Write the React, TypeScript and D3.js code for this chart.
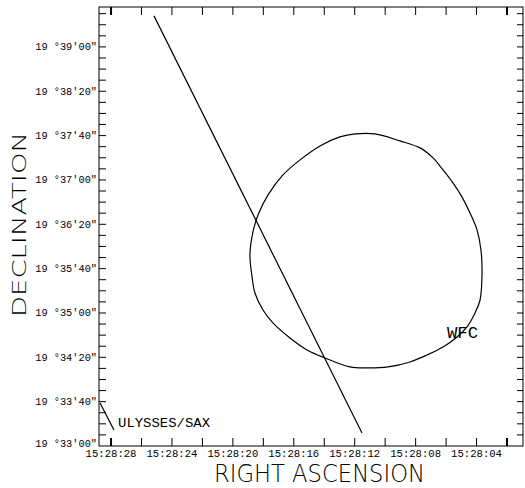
import React, { useEffect, useRef } from 'react';
import * as d3 from 'd3';

// RA: seconds after 15h28m00s ; Dec: arcsec after 19d00'00"
const raMajor = [28, 24, 20, 16, 12, 8, 4];
const raMinor = [28, 26, 24, 22, 20, 18, 16, 14, 12, 10, 8, 6, 4, 2];
const decMajor = [1980, 2020, 2060, 2100, 2140, 2180, 2220, 2260, 2300, 2340];

// WFC error circle
const wfcRa = [
  11.98, 10.67, 9.03, 7.71, 6.86, 6.2, 5.55, 4.96, 4.43, 3.97, 3.71, 3.64, 3.77,
  4.1, 4.63, 5.28, 6.2, 7.25, 8.37, 9.81, 11.19, 12.31, 13.95, 15.13, 16.25,
  17.37, 18.02, 18.55, 18.74, 18.88, 18.68, 18.35, 17.69, 16.71, 15.59, 14.28, 12.97,
];
const wfcDec = [
  2261.5, 2261.5, 2255.2, 2248.9, 2239.9, 2229.0, 2217.3, 2204.7, 2190.2, 2174.9,
  2156.8, 2136.1, 2111.7, 2100.0, 2087.4, 2078.3, 2069.3, 2062.1, 2055.8, 2051.3,
  2050.4, 2051.3, 2059.4, 2066.6, 2077.4, 2091.0, 2102.7, 2118.0, 2132.5, 2152.3,
  2173.1, 2188.4, 2206.5, 2224.5, 2238.1, 2250.7, 2258.8,
];

// Ulysses/SAX annulus edges
const annulusA_ra = [25.18, 11.52];
const annulusA_dec = [2368.0, 1991.7];
const annulusB_ra = [28.72, 27.81];
const annulusB_dec = [2018.8, 1994.4];

const fmtRa = (s: number) => `15:28:${String(s).padStart(2, '0')}`;
const fmtDec = (a: number) => {
  const m = Math.floor((a % 3600) / 60);
  const s = a % 60;
  return `19 \u00b0${m}'${String(s).padStart(2, '0')}"`;
};

const FONT = '"Liberation Mono", "DejaVu Sans Mono", monospace';
const THIN = '"DejaVu Sans", "Liberation Sans", sans-serif';

const App = () => {
  const ref = useRef<SVGSVGElement | null>(null);
  const width = 525;
  const height = 488;
  const margin = { top: 7, right: 2, bottom: 42, left: 99 };

  useEffect(() => {
    const svg = d3.select(ref.current);
    svg.selectAll('*').remove();

    const x = d3
      .scaleLinear()
      .domain([28.79, 0.95])
      .range([margin.left, width - margin.right]);
    const y = d3
      .scaleLinear()
      .domain([1980, 2376])
      .range([height - margin.bottom, margin.top]);

    const [x0, x1] = x.range();
    const [y0, y1] = y.range(); // y0 bottom, y1 top

    const g = svg.append('g');

    // frame
    g.append('rect')
      .attr('x', x0)
      .attr('y', y1)
      .attr('width', x1 - x0)
      .attr('height', y0 - y1)
      .attr('fill', 'none')
      .attr('stroke', '#000')
      .attr('stroke-width', 1);

    // bottom / top ticks
    raMinor.forEach((v, i) => {
      const w = i === 0 || i === raMinor.length - 1 ? 2 : 1;
      g.append('line')
        .attr('x1', x(v)).attr('x2', x(v))
        .attr('y1', y0).attr('y2', y0 - 8)
        .attr('stroke', '#000').attr('stroke-width', w);
      g.append('line')
        .attr('x1', x(v)).attr('x2', x(v))
        .attr('y1', y1).attr('y2', y1 + 8)
        .attr('stroke', '#000').attr('stroke-width', w);
    });

    // left / right ticks every 10"
    d3.range(1990, 2376, 10).forEach((v) => {
      g.append('line')
        .attr('x1', x0).attr('x2', x0 + 7)
        .attr('y1', y(v)).attr('y2', y(v))
        .attr('stroke', '#000').attr('stroke-width', 1);
      g.append('line')
        .attr('x1', x1).attr('x2', x1 - 6)
        .attr('y1', y(v)).attr('y2', y(v))
        .attr('stroke', '#000').attr('stroke-width', 1);
    });

    // tick labels
    g.selectAll('.ra_label')
      .data(raMajor)
      .join('text')
      .attr('class', 'ra_label')
      .attr('x', (d) => x(d))
      .attr('y', y0 + 10.5)
      .attr('text-anchor', 'middle')
      .style('font-family', FONT)
      .style('font-size', '10.6px')
      .text((d) => fmtRa(d));

    g.selectAll('.dec_label')
      .data(decMajor)
      .join('text')
      .attr('class', 'dec_label')
      .attr('x', x0 - 2)
      .attr('y', (d, i) => y(d) + (i === 0 ? 0.5 : 3.5))
      .attr('text-anchor', 'end')
      .style('font-family', FONT)
      .style('font-size', '10.3px')
      .text((d) => fmtDec(d));

    // axis titles
    svg.append('text')
      .attr('x', 214)
      .attr('y', 482)
      .attr('textLength', 211)
      .attr('lengthAdjust', 'spacingAndGlyphs')
      .style('font-family', THIN)
      .style('font-size', '24px')
      .style('font-weight', 200)
      .text('RIGHT ASCENSION');

    svg.append('text')
      .attr('transform', 'translate(26, 317) rotate(-90)')
      .attr('textLength', 185)
      .attr('lengthAdjust', 'spacingAndGlyphs')
      .style('font-family', THIN)
      .style('font-size', '20px')
      .style('font-weight', 200)
      .text('DECLINATION');

    // curves
    const line = d3
      .line<number>()
      .x((i) => x(wfcRa[i]))
      .y((i) => y(wfcDec[i]))
      .curve(d3.curveCatmullRomClosed);

    g.append('path')
      .attr('d', line(d3.range(wfcRa.length)))
      .attr('fill', 'none')
      .attr('stroke', '#000')
      .attr('stroke-width', 1.2);

    [
      [annulusA_ra, annulusA_dec],
      [annulusB_ra, annulusB_dec],
    ].forEach(([ra, dec]) => {
      g.append('line')
        .attr('x1', x(ra[0])).attr('y1', y(dec[0]))
        .attr('x2', x(ra[1])).attr('y2', y(dec[1]))
        .attr('stroke', '#000')
        .attr('stroke-width', 1.2);
    });

    // annotations
    g.append('text')
      .attr('x', x(5.94))
      .attr('y', y(2077.4))
      .attr('textLength', 31)
      .attr('lengthAdjust', 'spacingAndGlyphs')
      .style('font-family', FONT)
      .style('font-size', '17px')
      .text('WFC');

    g.append('text')
      .attr('x', x(27.54))
      .attr('y', y(1997.1))
      .attr('textLength', 92)
      .attr('lengthAdjust', 'spacingAndGlyphs')
      .style('font-family', FONT)
      .style('font-size', '13.5px')
      .text('ULYSSES/SAX');
  }, []);

  return (
    <svg
      ref={ref}
      width={width}
      height={height}
      style={{ position: 'absolute', left: 0, top: 0, background: '#fff' }}
    />
  );
};

export default App;
